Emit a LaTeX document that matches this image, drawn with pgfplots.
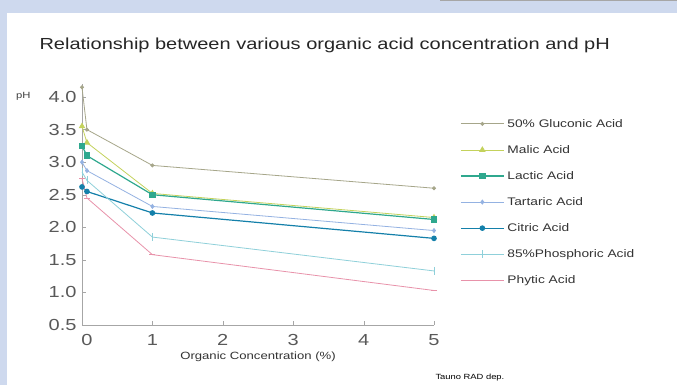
\documentclass[border=0pt]{standalone}
\usepackage{pgfplots}
\pgfplotsset{compat=1.18}
\usepackage{fontspec}
\setmainfont{Liberation Sans}[FakeStretch=1.25]

\definecolor{frame}{HTML}{CED9EE}
\definecolor{cGluc}{HTML}{A6A68A}
\definecolor{cMalic}{HTML}{C4D25C}
\definecolor{cLactic}{HTML}{2FA88E}
\definecolor{cTart}{HTML}{94B2E2}
\definecolor{cCitric}{HTML}{1480AA}
\definecolor{cPhos}{HTML}{8FD0DA}
\definecolor{cPhyt}{HTML}{E892AA}

\begin{document}
\begin{tikzpicture}[x=1bp,y=1bp]
  % page frame
  \fill[frame] (0,0) rectangle (677,385);
  \fill[white] (7,0) rectangle (677,372);
  \fill[gray!70] (440,384) rectangle (677,385);

  \node[anchor=west,font=\fontsize{16bp}{18bp}\selectfont, text=black!85] at (36,340)
    {Relationship between various organic acid concentration and pH};

  \begin{axis}[
    at={(82bp,60bp)}, anchor=south west,
    scale only axis, width=352bp, height=241bp,
    xmin=0, xmax=5, ymin=0.5, ymax=4.2,
    axis lines*=left,
    axis line style={gray!70},
    xtick={0,1,2,3,4,5},
    ytick={0.5,1,1.5,2,2.5,3,3.5,4},
    yticklabel style={/pgf/number format/fixed, /pgf/number format/fixed zerofill,
      /pgf/number format/precision=1, xshift=-2bp},
    /pgf/number format/assume math mode=true,
    tick style={gray!70, major tick length=4bp},
    tick align=inside,
    ticklabel style={font=\fontsize{16bp}{17bp}\selectfont, text=black!65},
    xticklabel style={yshift=-6bp},
    xticklabel={\ifdim\tick pt=0pt\hspace{10bp}\fi\pgfmathprintnumber{\tick}},
    xlabel={Organic Concentration (\%)},
    xlabel style={font=\fontsize{10.5bp}{12bp}\selectfont, text=black!80, yshift=1bp},
    clip=false,
    legend cell align=left,
    legend style={at={(1.074,0.855)}, anchor=north west, draw=none, fill=none,
      font=\fontsize{11bp}{11.5bp}\selectfont, text=black!80, row sep=16.6bp,
      inner sep=0pt, nodes={inner xsep=3bp, inner ysep=0pt}},
    legend image code/.code={
      \draw[#1] (0bp,0bp) -- (43bp,0bp);
      \draw[#1, only marks] plot coordinates {(21.5bp,0bp)};
    },
  ]
    \addplot[cGluc, thick, mark=*, mark size=1.6bp] coordinates
      {(0,4.15) (0.07,3.50) (1,2.95) (5,2.60)};
    \addlegendentry{50\% Gluconic Acid}
    \addplot[cMalic, thick, mark=triangle*, mark size=3bp] coordinates
      {(0,3.55) (0.07,3.30) (1,2.52) (5,2.15)};
    \addlegendentry{Malic Acid}
    \addplot[cLactic, very thick, mark=square*, mark size=2.6bp] coordinates
      {(0,3.25) (0.07,3.10) (1,2.50) (5,2.12)};
    \addlegendentry{Lactic Acid}
    \addplot[cTart, thick, mark=diamond*, mark size=2bp] coordinates
      {(0,3.00) (0.07,2.87) (1,2.32) (5,1.95)};
    \addlegendentry{Tartaric Acid}
    \addplot[cCitric, very thick, mark=*, mark size=2.2bp] coordinates
      {(0,2.62) (0.07,2.55) (1,2.22) (5,1.83)};
    \addlegendentry{Citric Acid}
    \addplot[cPhos, thick, mark=|, mark size=4bp] coordinates
      {(0,2.85) (0.07,2.72) (1,1.85) (5,1.33)};
    \addlegendentry{85\%Phosphoric Acid}
    \addplot[cPhyt, thick, mark=-, mark size=3bp] coordinates
      {(0,2.75) (0.07,2.45) (1,1.58) (5,1.03)};
    \addlegendentry{Phytic Acid}
  \end{axis}

  \node[anchor=east,font=\fontsize{9bp}{10bp}\selectfont, text=black!75] at (34,289) {pH};
  \node[anchor=west,font=\fontsize{7.5bp}{9bp}\selectfont] at (432,7) {Tauno RAD dep.};
\end{tikzpicture}
\end{document}
